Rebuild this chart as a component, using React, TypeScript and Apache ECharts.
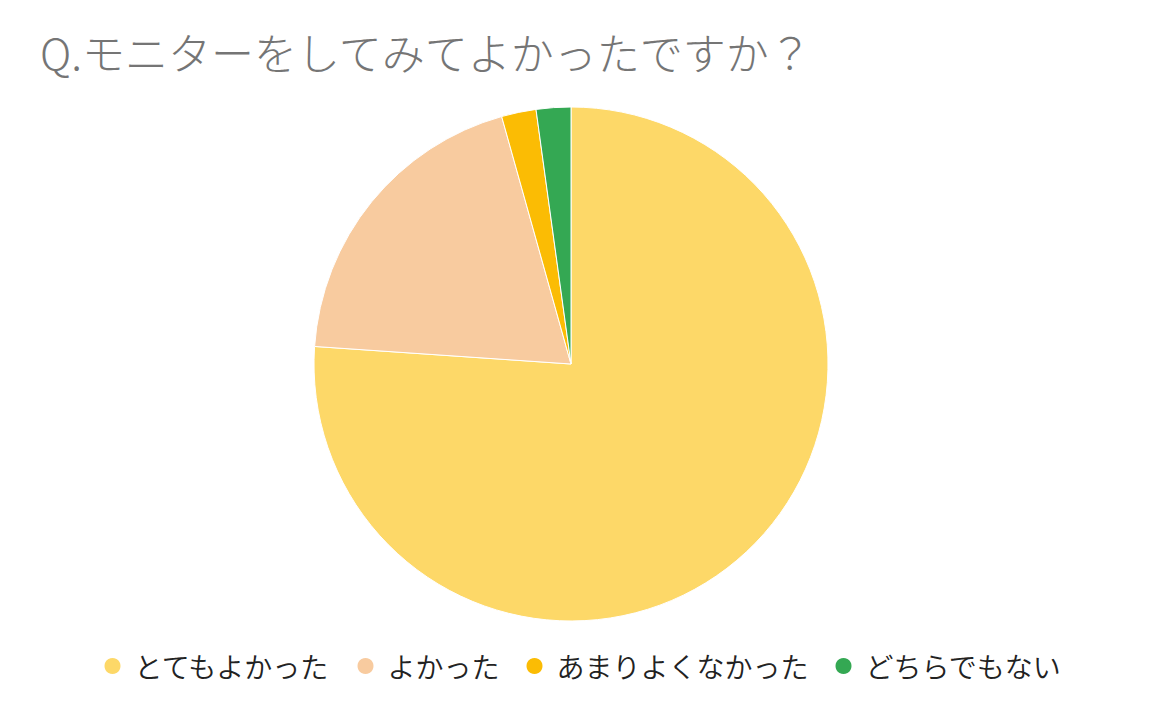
import * as echarts from "echarts";
import { useEffect, useRef } from "react";

const titleText = "Q.モニターをしてみてよかったですか？";
const categories = ["とてもよかった", "よかった", "あまりよくなかった", "どちらでもない"];
const counts = [35, 9, 1, 1];
const colors = ["#fdd868", "#f8cb9f", "#fbbc04", "#34a853"];

const font = "'Noto Sans CJK JP', 'Noto Sans', sans-serif";

export default function App() {
  const elementRef = useRef<HTMLDivElement | null>(null);

  useEffect(() => {
    if (!elementRef.current) {
      return;
    }
    const chart = echarts.init(elementRef.current, undefined, { renderer: "svg" });
    chart.setOption({
      animation: false,
      backgroundColor: "#ffffff",
      color: colors,
      title: {
        text: titleText,
        left: 35,
        top: 24,
        textStyle: {
          fontFamily: font,
          fontSize: 43,
          fontWeight: 300,
          color: "#757575"
        }
      },
      legend: {
        data: categories,
        left: "center",
        top: 647,
        icon: "circle",
        itemWidth: 18,
        itemHeight: 18,
        itemGap: 25,
        textStyle: {
          fontFamily: font,
          fontSize: 28,
          fontWeight: 350,
          color: "#222222",
          padding: [0, 0, 0, 8]
        }
      },
      series: [
        {
          type: "pie",
          center: [571, 364],
          radius: 257,
          startAngle: 90,
          clockwise: true,
          label: { show: false },
          labelLine: { show: false },
          itemStyle: { borderColor: "#ffffff", borderWidth: 1 },
          emphasis: { disabled: true },
          data: categories.map((name, index) => ({ name, value: counts[index] }))
        }
      ]
    });
    return () => {
      chart.dispose();
    };
  }, []);

  return (
    <div
      ref={elementRef}
      style={{ position: "fixed", left: 0, top: 0, width: 1164, height: 720 }}
    />
  );
}
